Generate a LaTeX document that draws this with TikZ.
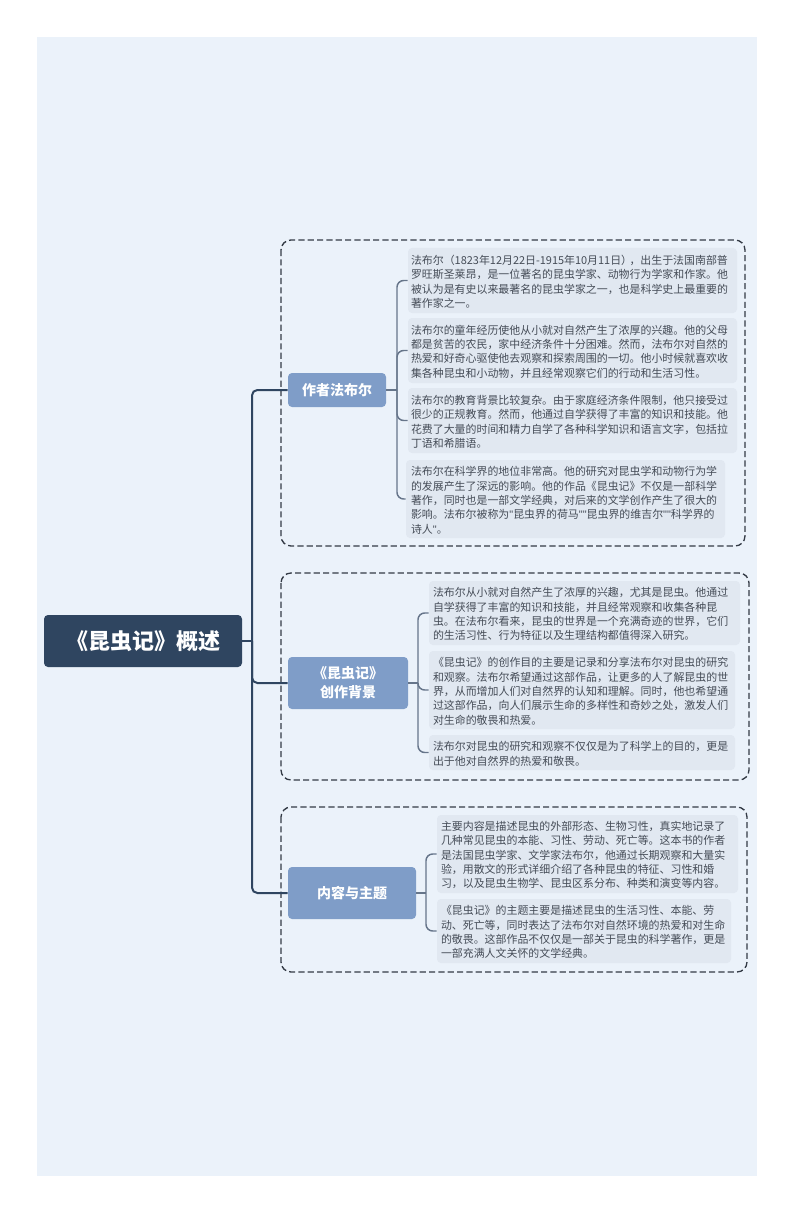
\documentclass[tikz,border=0pt]{standalone}
\usepackage{fontspec}
\setmainfont{Noto Sans CJK SC}
\newfontfamily\quotefont{Liberation Sans}
\newcommand{\qm}{{\quotefont\symbol{34}}}
\definecolor{pagebg}{HTML}{EBF2FA}
\definecolor{rootc}{HTML}{2F4560}
\definecolor{branchc}{HTML}{7F9DC8}
\definecolor{leafc}{HTML}{E1E8F1}
\definecolor{leaftext}{HTML}{454C57}
\definecolor{subconn}{HTML}{66758A}
\definecolor{framec}{HTML}{333A45}
\tikzset{
  framebox/.style={draw=framec,line width=1pt,dash pattern=on 4.6pt off 2.4pt,rounded corners=7.5pt},
  leafnode/.style={fill=leafc,rounded corners=3pt,text=leaftext,align=left,inner ysep=0pt,
    font=\fontsize{8.2}{10.75}\selectfont},
  branchnode/.style={fill=branchc,rounded corners=3pt,text=white,align=center,inner sep=0pt,
    font=\fontsize{10.5}{14.25}\selectfont\bfseries},
  rootnode/.style={fill=rootc,rounded corners=3pt,text=white,align=center,inner sep=0pt,
    font=\fontsize{16.5}{19}\selectfont\bfseries},
  trunk/.style={draw=rootc,line width=1.5pt,rounded corners=4pt},
  subtrunk/.style={draw=subconn,line width=1.1pt,rounded corners=5pt},
}
% name, x1, y1, x2, y2, style, text
\newcommand{\boxnode}[7]{%
  \pgfmathsetmacro{\bw}{(#4-#2)*0.75}%
  \pgfmathsetmacro{\bh}{(#5-#3)*0.75}%
  \pgfmathsetmacro{\bcx}{(#2+#4)/2}%
  \pgfmathsetmacro{\bcy}{(#3+#5)/2}%
  \node[#6,minimum width=\bw pt,minimum height=\bh pt] (#1) at (\bcx,\bcy) {#7};%
}
% left text margin in pt, then name, x1, y1, x2, y2, text
\newcommand{\leafbox}[7]{%
  \pgfmathsetmacro{\tw}{(#5-#3)*0.75-2*#1}%
  \boxnode{#2}{#3}{#4}{#5}{#6}{leafnode,inner xsep=#1pt,text width=\tw pt}{\rule{0pt}{8.8pt}#7}%
}
\begin{document}
\begin{tikzpicture}[x=0.75pt,y=-0.75pt]
\useasboundingbox (0,0) rectangle (794,1212);
\fill[white] (0,0) rectangle (794,1212);
\fill[pagebg] (37,37) rectangle (757,1176);

\draw[framebox] (281,240) rectangle (745,546);
\draw[framebox] (281,573) rectangle (749,780);
\draw[framebox] (281,807) rectangle (747,972);

\boxnode{root}{44}{615}{242}{667}{rootnode}{《昆虫记》概述}
\boxnode{b1}{288}{373}{386}{407}{branchnode}{作者法布尔}
\boxnode{b2}{288}{657}{408}{709}{branchnode}{《昆虫记》\\创作背景}
\boxnode{b3}{288}{867}{416}{919}{branchnode}{内容与主题}

\leafbox{2.25}{a1}{408}{248}{737}{313}{\mbox{法布尔（1823年12月22日-1915年10月11日）\kern-2pt，出生于法国南部普}\\罗旺斯圣莱昂，是一位著名的昆虫学家、动物行为学家和作家。他\\被认为是有史以来最著名的昆虫学家之一，也是科学史上最重要的\\著作家之一。}
\leafbox{2.25}{a2}{408}{318}{737}{383}{法布尔的童年经历使他从小就对自然产生了浓厚的兴趣。他的父母\\都是贫苦的农民，家中经济条件十分困难。然而，法布尔对自然的\\热爱和好奇心驱使他去观察和探索周围的一切。他小时候就喜欢收\\集各种昆虫和小动物，并且经常观察它们的行动和生活习性。}
\leafbox{2.25}{a3}{408}{388}{737}{453}{法布尔的教育背景比较复杂。由于家庭经济条件限制，他只接受过\\很少的正规教育。然而，他通过自学获得了丰富的知识和技能。他\\花费了大量的时间和精力自学了各种科学知识和语言文字，包括拉\\丁语和希腊语。}
\leafbox{3.75}{a4}{406}{460}{725}{538}{法布尔在科学界的地位非常高。他的研究对昆虫学和动物行为学\\的发展产生了深远的影响。他的作品《昆虫记》不仅是一部科学\\著作，同时也是一部文学经典，对后来的文学创作产生了很大的\\影响。法布尔被称为\qm 昆虫界的荷马\qm\qm 昆虫界的维吉尔\qm\qm 科学界的\\诗人\qm 。}

\leafbox{3}{c1}{429}{581}{740}{645}{法布尔从小就对自然产生了浓厚的兴趣，尤其是昆虫。他通过\\自学获得了丰富的知识和技能，并且经常观察和收集各种昆\\虫。在法布尔看来，昆虫的世界是一个充满奇迹的世界，它们\\的生活习性、行为特征以及生理结构都值得深入研究。}
\leafbox{3}{c2}{429}{651}{735}{729}{《昆虫记》的创作目的主要是记录和分享法布尔对昆虫的研究\\和观察。法布尔希望通过这部作品，让更多的人了解昆虫的世\\界，从而增加人们对自然界的认知和理解。同时，他也希望通\\过这部作品，向人们展示生命的多样性和奇妙之处，激发人们\\对生命的敬畏和热爱。}
\leafbox{3}{c3}{429}{735}{735}{770}{法布尔对昆虫的研究和观察不仅仅是为了科学上的目的，更是\\出于他对自然界的热爱和敬畏。}

\leafbox{3}{d1}{437}{815}{738}{893}{主要内容是描述昆虫的外部形态、生物习性，真实地记录了\\几种常见昆虫的本能、习性、劳动、死亡等。这本书的作者\\是法国昆虫学家、文学家法布尔，他通过长期观察和大量实\\验，用散文的形式详细介绍了各种昆虫的特征、习性和婚\\习，以及昆虫生物学、昆虫区系分布、种类和演变等内容。}
\leafbox{3}{d2}{437}{899}{731}{963}{《昆虫记》的主题主要是描述昆虫的生活习性、本能、劳\\动、死亡等，同时表达了法布尔对自然环境的热爱和对生命\\的敬畏。这部作品不仅仅是一部关于昆虫的科学著作，更是\\一部充满人文关怀的文学经典。}

% main trunk
\coordinate (jr) at (252,641);
\draw[trunk] (root.east) -- (jr);
\draw[trunk] (b1.west) -| (jr) |- (b3.west);
\draw[trunk] (jr) |- (b2.west);

% sub trunks
\coordinate (j1) at (397,390);
\draw[subtrunk] (b1.east) -- (j1);
\draw[subtrunk] (a1.west) -| (j1) |- (a4.west);
\draw[subtrunk] (j1) |- (a2.west);
\draw[subtrunk] (j1) |- (a3.west);

\coordinate (j2) at (418,683);
\draw[subtrunk] (b2.east) -- (j2);
\draw[subtrunk] (c1.west) -| (j2) |- (c3.west);
\draw[subtrunk] (j2) |- (c2.west);

\coordinate (j3) at (426,893);
\draw[subtrunk] (b3.east) -- (j3);
\draw[subtrunk] (d1.west) -| (j3) |- (d2.west);
\end{tikzpicture}
\end{document}
